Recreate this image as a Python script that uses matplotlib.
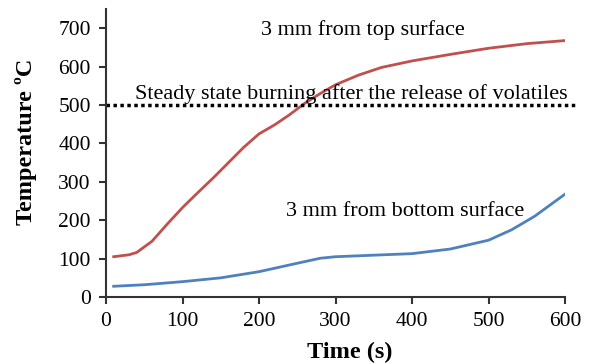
import matplotlib.pyplot as plt

plt.rcParams["font.family"] = ["Liberation Serif", "DejaVu Serif"]

# data
time_top = [10, 30, 40, 60, 80, 100, 120, 140, 160, 180, 200, 220, 240, 260, 280,
            300, 330, 360, 400, 450, 500, 550, 600]
temp_top = [105, 110, 116, 145, 190, 233, 272, 310, 350, 390, 425, 448, 475, 505, 530,
            553, 578, 598, 615, 632, 648, 660, 668]

time_bot = [10, 50, 100, 150, 200, 250, 280, 300, 350, 400, 450, 500, 530, 560, 600]
temp_bot = [28, 32, 40, 50, 66, 88, 101, 105, 109, 113, 125, 148, 175, 210, 268]

steady_temp = 500
steady_end = 615
xticks = [0, 100, 200, 300, 400, 500, 600]
yticks = [0, 100, 200, 300, 400, 500, 600, 700]

fig = plt.figure(figsize=(5.9, 3.64), dpi=100)
ax = fig.add_axes([0.1797, 0.184, 0.778, 0.791])

ax.plot(time_top, temp_top, color="#C0504D", lw=2)
ax.plot(time_bot, temp_bot, color="#4F81BD", lw=2)
ax.plot([0, steady_end], [steady_temp, steady_temp], color="black", lw=2.5,
        linestyle=(0, (1, 1)), clip_on=False)

ax.text(320, 530, "Steady state burning after the release of volatiles", ha="center",
        va="center", fontsize=16, clip_on=False)
ax.text(336, 695, "3 mm from top surface", ha="center", va="center", fontsize=16)
ax.text(391, 224, "3 mm from bottom surface", ha="center", va="center", fontsize=16)

ax.set_xlim(0, 600)
ax.set_ylim(0, 750)
ax.set_xticks(xticks)
ax.set_yticks(yticks)
ax.tick_params(labelsize=15.5, width=1.5, length=5, color="#333333", pad=6)
for s in ("top", "right"):
    ax.spines[s].set_visible(False)
for s in ("left", "bottom"):
    ax.spines[s].set_linewidth(1.5)
    ax.spines[s].set_color("#333333")

ax.set_xlabel("Time (s)", fontsize=17.5, fontweight="bold")
ax.set_ylabel("Temperature ºC", fontsize=17.5, fontweight="bold")
ax.xaxis.set_label_coords(0.53, -0.155)
ax.yaxis.set_label_coords(-0.15, 0.54)

fig.savefig("out.png")
